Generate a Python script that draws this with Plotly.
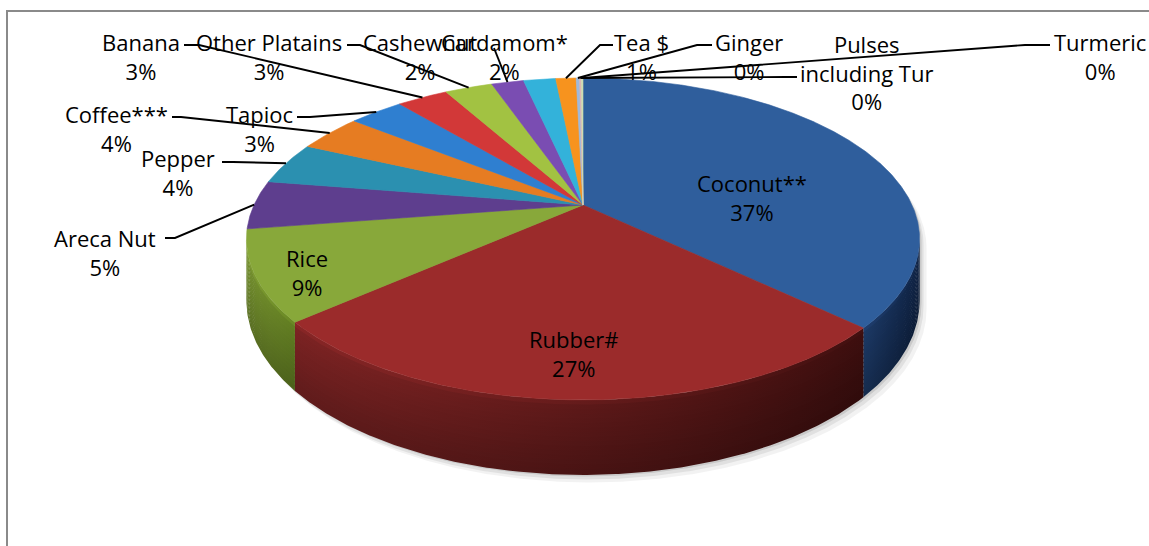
import numpy as np
import plotly.graph_objects as go

# ---- data -------------------------------------------------------------
crops = ["Coconut**", "Rubber#", "Rice", "Areca Nut", "Pepper", "Coffee***",
         "Tapioc", "Banana", "Other Platains", "Cashewnut", "Cardamom*",
         "Tea $", "Ginger", "Pulses\nincluding Tur", "Turmeric"]
area_share = [37.0, 26.6, 9.0, 4.9, 4.3, 3.8,
              3.2, 3.0, 2.8, 1.9, 1.9,
              1.2, 0.2, 0.1, 0.1]

# ---- styling / layout -------------------------------------------------
top_colors = ["#2F5E9C", "#9B2B2B", "#88A83A", "#5E3E8E", "#2B90B0", "#E67C22",
              "#2F7FD0", "#D23838", "#A2C242", "#7A4DB2", "#33B2DA",
              "#F7931E", "#9DB9DC", "#E0B4B3", "#CFDDB2"]
side_left = ["#1D3A66", "#7E2424", "#76922F", "#3E2960", "#1E6A82", "#A85814",
             "#1F5C99", "#952626", "#78912E", "#573683", "#2484A2",
             "#B86C12", "#7390B0", "#A88483", "#9AA885"]
side_right = ["#0F2345", "#3E0F0F", "#627E22", "#2A1A44", "#124A5C", "#7A3E0C",
              "#143F6C", "#611818", "#56691F", "#3A2459", "#175A70",
              "#834C0C", "#52688A", "#7A5E5D", "#6F7A5F"]

# label centres (pixels) and leader attach / elbow points
label_x = [752, 574, 307, 105, 178, 116, 259, 141, 269, 420, 504, 641, 749, 866, 1100]
label_y = [197, 353, 272, 252, 172, 128, 128, 56, 56, 56, 56, 56, 56, 72, 56]
leaders = [None, None, None,
           (165, 238, 175, 238),
           (222, 162, 233, 162),
           (172, 117, 181, 117),
           (297, 117, 310, 117),
           (184, 45, 199, 45),
           (347, 45, 360, 45),
           (494, 48, 494, 48),
           None,
           (613, 45, 600, 45),
           (712, 45, 697, 45),
           (797, 77, 785, 77),
           (1050, 45, 1025, 45)]

W, H = 1149, 546
CX, CY = 583.0, 205.0      # projected pie centre
R, B = 329.0, 153.8        # horizontal / vertical radius factors
A = 0.211                  # perspective strength
D0 = 58.0                  # thickness of the pie
FONT = "Open Sans"


def rim(theta, r=1.0):
    t = np.radians(theta)
    u = r * np.sin(t)
    v = -r * np.cos(t)
    w = 1 - A * v
    return CX + R * u / w, CY + B * v / w, w


def arc(t0, t1, step=0.4):
    n = max(2, int(np.ceil(abs(t1 - t0) / step)) + 1)
    return np.linspace(t0, t1, n)


def scaled(c, shade):
    c = c.lstrip("#")
    rgb = [min(255, int(int(c[j:j + 2], 16) * shade)) for j in (0, 2, 4)]
    return "rgb({},{},{})".format(*rgb)


total = float(sum(area_share))
bounds = np.concatenate([[0.0], np.cumsum(area_share)]) / total * 360.0
pct_text = [f"{int(np.floor(v / total * 100 + 0.5))}%" for v in area_share]

fig = go.Figure()

# visible outer wall runs between the two silhouette points
TH_R = np.degrees(np.arccos(-A))
TH_L = 360.0 - TH_R

# soft shadow below the pie
sil_front = arc(TH_R, TH_L)
sil_back = arc(TH_L, TH_R + 360.0)
xf, yf, wf = rim(sil_front)
xb, yb, _ = rim(sil_back)
sx = np.concatenate([xf, xb])
sy = np.concatenate([yf + D0 / wf, yb])
for dx, dy, op in [(2, 3, 0.10), (4, 6, 0.07), (7, 9, 0.05)]:
    fig.add_trace(go.Scatter(x=sx + dx, y=sy + dy, mode="lines", fill="toself",
                             fillcolor=f"rgba(0,0,0,{op})", line=dict(width=0),
                             hoverinfo="skip", showlegend=False))

# outer walls, drawn in depth bands for shading
NB = 16
for i in range(len(area_share)):
    s0 = max(bounds[i], TH_R)
    s1 = min(bounds[i + 1], TH_L)
    if s1 <= s0:
        continue
    th = arc(s0, s1)
    x, y, w = rim(th)
    for k in range(NB):
        f0, f1 = k / NB, (k + 1) / NB
        shade = 1.08 if k == 0 else 1.0 - 0.22 * (k / (NB - 1))
        px = np.concatenate([x, x[::-1]])
        py = np.concatenate([y + f0 * D0 / w, (y + (f1 + 0.02) * D0 / w)[::-1]])
        fig.add_trace(go.Scatter(
            x=px, y=py, mode="lines", fill="toself", line=dict(width=0),
            fillgradient=dict(type="horizontal",
                              colorscale=[[0, scaled(side_left[i], shade)],
                                          [1, scaled(side_right[i], shade)]]),
            hoverinfo="skip", showlegend=False))

# top faces
for i in range(len(area_share)):
    th = arc(bounds[i], bounds[i + 1], 0.2)
    x, y, _ = rim(th)
    px = np.concatenate([[CX], x, [CX]])
    py = np.concatenate([[CY], y, [CY]])
    fig.add_trace(go.Scatter(x=px, y=py, mode="lines", fill="toself",
                             fillcolor=top_colors[i],
                             line=dict(width=0.6, color=top_colors[i]),
                             hoverinfo="skip", showlegend=False))

# leader lines from each outside label to its slice rim
for i, ld in enumerate(leaders):
    if ld is None:
        continue
    mid = 0.5 * (bounds[i] + bounds[i + 1])
    ex, ey, _ = rim(mid)
    fig.add_trace(go.Scatter(x=[ld[0], ld[2], float(ex)], y=[ld[1], ld[3], float(ey)],
                             mode="lines", line=dict(color="black", width=1.9),
                             hoverinfo="skip", showlegend=False))

# data labels
for i, name in enumerate(crops):
    fig.add_annotation(x=label_x[i], y=label_y[i], xref="x", yref="y",
                       text=name.replace("\n", "<br>") + "<br>" + pct_text[i],
                       showarrow=False, xanchor="center", yanchor="middle",
                       align="center", font=dict(family=FONT, size=22, color="black"))

# chart frame
fig.add_shape(type="rect", xref="x", yref="y", x0=7, y0=11, x1=W + 40, y1=H + 40,
              line=dict(color="#8A8A8A", width=2), fillcolor="rgba(0,0,0,0)", layer="above")

fig.update_layout(
    width=W, height=H, margin=dict(l=0, r=0, t=0, b=0),
    paper_bgcolor="white", plot_bgcolor="white", showlegend=False,
    xaxis=dict(range=[0, W], visible=False, fixedrange=True),
    yaxis=dict(range=[H, 0], visible=False, fixedrange=True),
)
fig.write_html("out.html")
